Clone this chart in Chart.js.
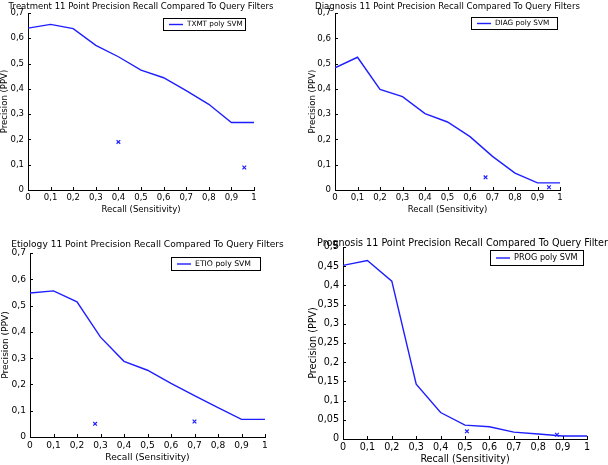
<!DOCTYPE html>
<html>
<head>
<meta charset="utf-8">
<script src="https://cdn.jsdelivr.net/npm/chart.js@4/dist/chart.umd.min.js"></script>
<style>
  html, body { margin: 0; padding: 0; background: #fff; }
  #wrap { position: relative; width: 608px; height: 465px; overflow: hidden; }
  canvas { position: absolute; }
</style>
</head>
<body>
<div id="wrap">
  <canvas id="c1" style="left:0;top:0"></canvas>
  <canvas id="c2" style="left:304px;top:0"></canvas>
  <canvas id="c3" style="left:0;top:232px"></canvas>
  <canvas id="c4" style="left:304px;top:232px"></canvas>
</div>
<script>
// 11 point recall levels (x of the curves)
const recallLevels = [0, 0.1, 0.2, 0.3, 0.4, 0.5, 0.6, 0.7, 0.8, 0.9, 1];

// SVM curves
const txmtPrecision = [0.640, 0.655, 0.638, 0.572, 0.527, 0.474, 0.444, 0.393, 0.339, 0.267, 0.267];
const diagPrecision = [0.483, 0.525, 0.398, 0.369, 0.302, 0.269, 0.211, 0.133, 0.067, 0.028, 0.028];
const etioPrecision = [0.548, 0.556, 0.514, 0.380, 0.288, 0.254, 0.204, 0.157, 0.112, 0.067, 0.067];
const progPrecision = [0.452, 0.465, 0.411, 0.143, 0.069, 0.036, 0.032, 0.018, 0.013, 0.008, 0.008];

// query filter points (x marks)
const txmtFilterRecall = [0.40, 0.957];
const txmtFilterPrecision = [0.190, 0.089];
const diagFilterRecall = [0.669, 0.951];
const diagFilterPrecision = [0.050, 0.011];
const etioFilterRecall = [0.277, 0.700];
const etioFilterPrecision = [0.050, 0.059];
const progFilterRecall = [0.508, 0.877];
const progFilterPrecision = [0.020, 0.011];

// tick labels
const xTicks = [0, 0.1, 0.2, 0.3, 0.4, 0.5, 0.6, 0.7, 0.8, 0.9, 1];
const yTicks = [0, 0.1, 0.2, 0.3, 0.4, 0.5, 0.6, 0.7];
const yTicksProg = [0, 0.05, 0.1, 0.15, 0.2, 0.25, 0.3, 0.35, 0.4, 0.45, 0.5];

const titles = [
    'Treatment 11 Point Precision Recall Compared To Query Filters',
    'Diagnosis 11 Point Precision Recall Compared To Query Filters',
    'Etiology 11 Point Precision Recall Compared To Query Filters',
    'Prognosis 11 Point Precision Recall Compared To Query Filters'
];
const seriesNames = ['TXMT poly SVM', 'DIAG poly SVM', 'ETIO poly SVM', 'PROG poly SVM'];

const FONT = '"DejaVu Sans", sans-serif';
const BLUE = 'rgb(30,30,255)';

// layout of each panel (canvas size, plot area, text positions)
const panels = [
    { id: 'c1', w: 304, h: 232, area: [28, 13, 254, 190], titleY: 6.5, yTitleX: 5, xTitleY: 210, titleW: 265,
      legend: [163, 18, 245, 30], curve: txmtPrecision, fx: txmtFilterRecall, fy: txmtFilterPrecision, yt: yTicks },
    { id: 'c2', w: 304, h: 232, area: [31, 13, 256, 190], titleY: 6.5, yTitleX: 9, xTitleY: 210, titleW: 265,
      legend: [167, 17, 253, 29], curve: diagPrecision, fx: diagFilterRecall, fy: diagFilterPrecision, yt: yTicks },
    { id: 'c3', w: 304, h: 233, area: [30, 21, 265, 205], titleY: 13, yTitleX: 5.5, xTitleY: 226, titleW: 273,
      legend: [171, 25, 260, 38], curve: etioPrecision, fx: etioFilterRecall, fy: etioFilterPrecision, yt: yTicks },
    { id: 'c4', w: 304, h: 233, area: [39, 15, 283, 207], titleY: 11.5, yTitleX: 9.5, xTitleY: 228, titleW: 296,
      legend: [186, 18, 279, 33], curve: progPrecision, fx: progFilterRecall, fy: progFilterPrecision, yt: yTicksProg }
];

function commaLabel(v) {
    return String(Math.round(v * 100) / 100).replace('.', ',');
}

// size the font so the title has the width it has in the picture
function fitFontSize(text, width) {
    const ctx = document.createElement('canvas').getContext('2d');
    ctx.font = '10px ' + FONT;
    return 10 * width / ctx.measureText(text).width;
}

// short tick marks drawn inward, title and boxed legend
const matlabLook = {
    id: 'matlabLook',
    afterDraw(chart, args, opts) {
        const ctx = chart.ctx;
        const area = chart.chartArea;
        const xs = chart.scales.x, ys = chart.scales.y;
        ctx.save();
        ctx.strokeStyle = '#000';
        ctx.lineWidth = 1;
        ctx.beginPath();
        xs.ticks.forEach(t => {
            const px = Math.round(xs.getPixelForValue(t.value)) + 0.5;
            ctx.moveTo(px, area.bottom);
            ctx.lineTo(px, area.bottom - 3);
        });
        ys.ticks.forEach(t => {
            const py = Math.round(ys.getPixelForValue(t.value)) + 0.5;
            ctx.moveTo(area.left, py);
            ctx.lineTo(area.left + 3, py);
        });
        ctx.stroke();

        // title
        ctx.fillStyle = '#000';
        ctx.font = opts.fontSize + 'px ' + FONT;
        ctx.textAlign = 'center';
        ctx.textBaseline = 'middle';
        ctx.fillText(opts.title, (area.left + area.right) / 2, opts.titleY);

        // legend
        const [lx1, ly1, lx2, ly2] = opts.legend;
        ctx.fillStyle = '#fff';
        ctx.fillRect(lx1, ly1, lx2 - lx1, ly2 - ly1);
        ctx.strokeStyle = '#000';
        ctx.strokeRect(lx1 + 0.5, ly1 + 0.5, lx2 - lx1, ly2 - ly1);
        const my = (ly1 + ly2) / 2 + 0.5;
        ctx.strokeStyle = BLUE;
        ctx.lineWidth = 1.4;
        ctx.beginPath();
        ctx.moveTo(lx1 + 6, my);
        ctx.lineTo(lx1 + 20, my);
        ctx.stroke();
        ctx.fillStyle = '#000';
        ctx.textAlign = 'left';
        ctx.font = (opts.fontSize * 0.85) + 'px ' + FONT;
        ctx.fillText(chart.data.datasets[0].label, lx1 + 24, my);
        ctx.restore();
    }
};

panels.forEach(function (p, i) {
    const canvas = document.getElementById(p.id);
    canvas.width = p.w;
    canvas.height = p.h;
    canvas.style.width = p.w + 'px';
    canvas.style.height = p.h + 'px';

    const fontSize = fitFontSize(titles[i], p.titleW);
    const [left, top, right, bottom] = p.area;
    const yMax = p.yt[p.yt.length - 1];

    new Chart(canvas.getContext('2d'), {
        data: {
            datasets: [{
                type: 'line',
                label: seriesNames[i],
                data: recallLevels.map((r, k) => ({ x: r, y: p.curve[k] })),
                borderColor: BLUE,
                borderWidth: 1.4,
                pointRadius: 0,
                tension: 0,
                fill: false
            }, {
                type: 'scatter',
                label: 'Query filters',
                data: p.fx.map((r, k) => ({ x: r, y: p.fy[k] })),
                pointStyle: 'crossRot',
                pointRadius: 2.6,
                borderColor: BLUE,
                backgroundColor: BLUE,
                borderWidth: 1.2
            }]
        },
        options: {
            responsive: false,
            animation: false,
            devicePixelRatio: 1,
            layout: { padding: { left: 0, top: top, right: p.w - right, bottom: 0 } },
            plugins: {
                legend: { display: false },
                tooltip: { enabled: false },
                matlabLook: { title: titles[i], titleY: p.titleY, fontSize: fontSize, legend: p.legend }
            },
            scales: {
                x: {
                    type: 'linear',
                    min: 0,
                    max: 1,
                    afterBuildTicks: s => { s.ticks = xTicks.map(v => ({ value: v })); },
                    afterFit: s => { s.height = p.h - bottom; },
                    grid: { display: true, drawOnChartArea: false, drawTicks: false },
                    border: { display: true, color: '#000', width: 1 },
                    ticks: {
                        color: '#000',
                        padding: 3,
                        maxRotation: 0,
                        autoSkip: false,
                        font: { family: FONT, size: fontSize },
                        callback: v => commaLabel(v)
                    },
                    title: {
                        display: true,
                        text: 'Recall (Sensitivity)',
                        color: '#000',
                        font: { family: FONT, size: fontSize, lineHeight: 1.2 },
                        padding: { top: 0, bottom: p.h - p.xTitleY - fontSize * 0.6 }
                    }
                },
                y: {
                    type: 'linear',
                    min: 0,
                    max: yMax,
                    afterBuildTicks: s => { s.ticks = p.yt.map(v => ({ value: v })); },
                    afterFit: s => { s.width = left; },
                    grid: { display: true, drawOnChartArea: false, drawTicks: false },
                    border: { display: true, color: '#000', width: 1 },
                    ticks: {
                        color: '#000',
                        padding: 4,
                        autoSkip: false,
                        font: { family: FONT, size: fontSize },
                        callback: v => commaLabel(v)
                    },
                    title: {
                        display: true,
                        text: 'Precision (PPV)',
                        color: '#000',
                        font: { family: FONT, size: fontSize, lineHeight: 1.2 },
                        padding: { top: p.yTitleX - fontSize * 0.6, bottom: 0 }
                    }
                }
            }
        },
        plugins: [matlabLook]
    });
});
</script>
</body>
</html>
